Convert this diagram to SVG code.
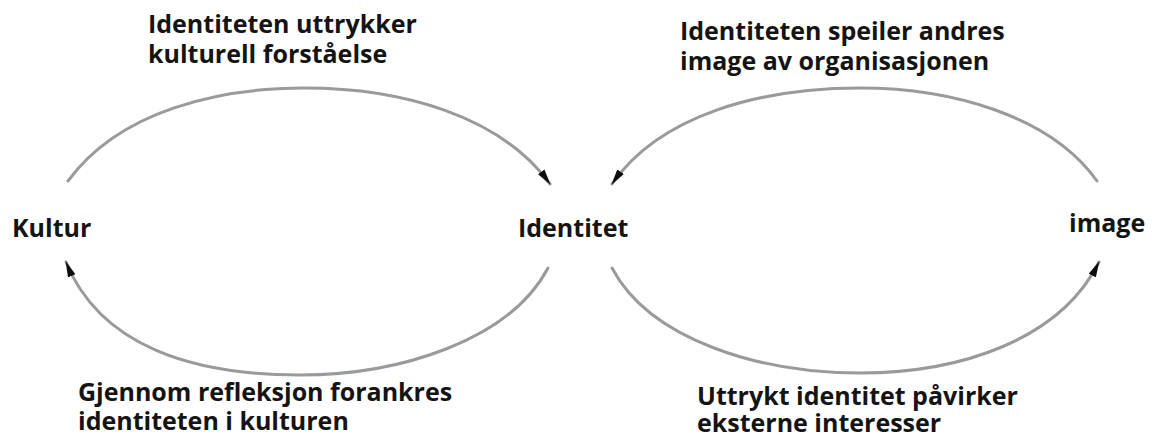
<svg xmlns="http://www.w3.org/2000/svg" width="1152" height="437" viewBox="0 0 1152 437">
  <style>
    .label { font-family: "Open Sans", "Liberation Sans", sans-serif; font-weight: bold; font-size: 25px; fill: #141414; }
    .arc { fill: none; stroke: #9a9a9a; stroke-width: 3; stroke-linecap: round; }
  </style>
  <defs>
    <marker id="head" viewBox="0 0 16 10" refX="15" refY="5" markerWidth="16" markerHeight="10" markerUnits="userSpaceOnUse" orient="auto">
      <path d="M0,1 L16,5 L0,9 Z" fill="#111"/>
    </marker>
    <filter id="soft" x="-5%" y="-5%" width="110%" height="110%">
      <feGaussianBlur stdDeviation="0.6"/>
    </filter>
  </defs>
  <rect width="1152" height="437" fill="#ffffff"/>

  <!-- curved connectors between the three concepts -->
  <g id="connectors" filter="url(#soft)">
    <path class="arc" d="M68,181 C120,110 220,88 305,88 C400,88 500,115 550,184" marker-end="url(#head)"/>
    <path class="arc" d="M1097,181 C1050,115 950,88 860,88 C760,88 660,115 612,184" marker-end="url(#head)"/>
    <path class="arc" d="M548,268 C510,340 400,375 300,375 C190,375 100,345 66,262" marker-end="url(#head)"/>
    <path class="arc" d="M612,268 C650,340 760,373 860,373 C960,373 1060,340 1099,262" marker-end="url(#head)"/>
  </g>

  <g id="node-kultur">
    <text class="label" x="12" y="237">Kultur</text>
  </g>
  <g id="node-identitet">
    <text class="label" x="518" y="237">Identitet</text>
  </g>
  <g id="node-image">
    <text class="label" x="1069" y="232">image</text>
  </g>

  <g id="label-top-left">
    <text class="label" x="148" y="33">Identiteten uttrykker</text>
    <text class="label" x="148" y="63">kulturell forståelse</text>
  </g>
  <g id="label-top-right">
    <text class="label" x="680" y="40">Identiteten speiler andres</text>
    <text class="label" x="680" y="70">image av organisasjonen</text>
  </g>
  <g id="label-bottom-left">
    <text class="label" x="78" y="401">Gjennom refleksjon forankres</text>
    <text class="label" x="78" y="430">identiteten i kulturen</text>
  </g>
  <g id="label-bottom-right">
    <text class="label" x="697" y="405">Uttrykt identitet påvirker</text>
    <text class="label" x="697" y="432">eksterne interesser</text>
  </g>
</svg>
